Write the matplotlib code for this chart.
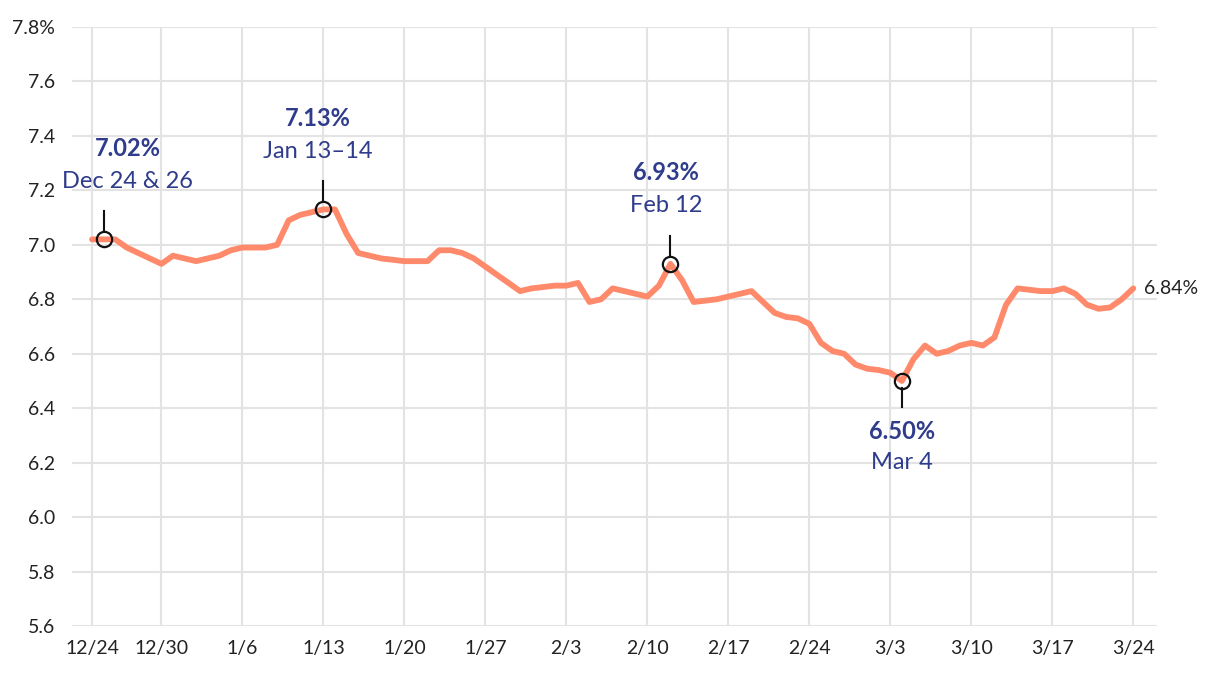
import matplotlib
matplotlib.use("Agg")
import matplotlib.pyplot as plt
import matplotlib.dates as mdates
import numpy as np
import pandas as pd

# daily 30-yr mortgage rate, 12/24/2024 .. 3/24/2025
dates = pd.date_range("2024-12-24", "2025-03-24", freq="D")
rates = [
    7.02, 7.02, 7.02, 6.99, 6.97, 6.95, 6.93, 6.96, 6.95, 6.94,
    6.95, 6.96, 6.98, 6.99, 6.99, 6.99, 7.00, 7.09, 7.11, 7.12,
    7.13, 7.13, 7.04, 6.97, 6.96, 6.95, 6.945, 6.94, 6.94, 6.94,
    6.98, 6.98, 6.97, 6.95, 6.92, 6.89, 6.86, 6.83, 6.84, 6.845,
    6.85, 6.85, 6.86, 6.79, 6.80, 6.84, 6.83, 6.82, 6.81, 6.85,
    6.93, 6.87, 6.79, 6.795, 6.80, 6.81, 6.82, 6.83, 6.79, 6.75,
    6.735, 6.73, 6.71, 6.64, 6.61, 6.60, 6.56, 6.545, 6.54, 6.53,
    6.50, 6.58, 6.63, 6.60, 6.61, 6.63, 6.64, 6.63, 6.66, 6.78,
    6.84, 6.835, 6.83, 6.83, 6.84, 6.82, 6.78, 6.765, 6.77, 6.80,
    6.84,
]

# callouts
callout_dates = ["2024-12-25", "2025-01-13", "2025-02-12", "2025-03-04"]
callout_values = [7.02, 7.13, 6.93, 6.50]
callout_bold = ["7.02%", "7.13%", "6.93%", "6.50%"]
callout_text = ["Dec 24 & 26", "Jan 13\u201314", "Feb 12", "Mar 4"]
callout_shift = [2.1, -0.5, -0.4, 0.0]
callout_up = [True, True, True, False]

tick_dates = [pd.Timestamp("2024-12-24")] + \
    pd.date_range("2024-12-30", "2025-03-24", freq="7D").tolist()
tick_labels = [f"{d.month}/{d.day}" for d in tick_dates]
y_ticks = [5.6, 5.8, 6.0, 6.2, 6.4, 6.6, 6.8, 7.0, 7.2, 7.4, 7.6, 7.8]

line_color = "#ff8a6b"
navy = "#2f3b8b"
grid_color = "#e3e3e3"

plt.rcParams["font.family"] = ["Lato", "DejaVu Sans"]

fig = plt.figure(figsize=(12.2, 6.78), dpi=100)
ax = fig.add_axes([72 / 1220, 52 / 678, (1157 - 72) / 1220, (626 - 27) / 678])

ax.plot(dates, rates, color=line_color, lw=4.2, solid_joinstyle="round",
        solid_capstyle="round", zorder=3)

ax.set_ylim(5.6, 7.8)
x0 = mdates.date2num(dates[0])
ax.set_xlim(x0 - 1.73, x0 + 92.05)

ax.set_yticks(y_ticks)
ax.set_yticklabels([f"{v:.1f}%" if v == 7.8 else f"{v:.1f}" for v in y_ticks])
ax.set_xticks(tick_dates)
ax.set_xticklabels(tick_labels)

ax.grid(True, color=grid_color, lw=1.5, zorder=0)
for s in ax.spines.values():
    s.set_visible(False)
ax.tick_params(length=0, labelsize=14, colors="#222222")
ax.tick_params(axis="y", pad=12)
ax.tick_params(axis="x", pad=10)

ppu = 272.5  # pixels per rate unit
for d, v, b, t, sh, up in zip(callout_dates, callout_values, callout_bold,
                               callout_text, callout_shift, callout_up):
    xd = pd.Timestamp(d)
    ax.plot([xd], [v], "o", ms=11, mfc="none", mec="#111111", mew=1.6, zorder=5)
    xt = mdates.date2num(xd) + sh
    if up:
        ax.plot([xd, xd], [v + 7 / ppu, v + 28 / ppu], color="#111111", lw=1.5, zorder=4)
        ax.text(xt, v + 58 / ppu, t, ha="center", va="center", fontsize=17, color=navy)
        ax.text(xt, v + 91 / ppu, b, ha="center", va="center", fontsize=17,
                color=navy, fontweight="bold")
    else:
        ax.plot([xd, xd], [v - 7 / ppu, v - 26 / ppu], color="#111111", lw=1.5, zorder=4)
        ax.text(xt, v - 51 / ppu, b, ha="center", va="center", fontsize=17,
                color=navy, fontweight="bold")
        ax.text(xt, v - 82 / ppu, t, ha="center", va="center", fontsize=17, color=navy)

# end value label
ax.text(mdates.date2num(dates[-1]) + 0.9, rates[-1], f"{rates[-1]:.2f}%",
        ha="left", va="center", fontsize=14, color="#222222", clip_on=False)

fig.savefig("out.png", dpi=100, facecolor="white")
